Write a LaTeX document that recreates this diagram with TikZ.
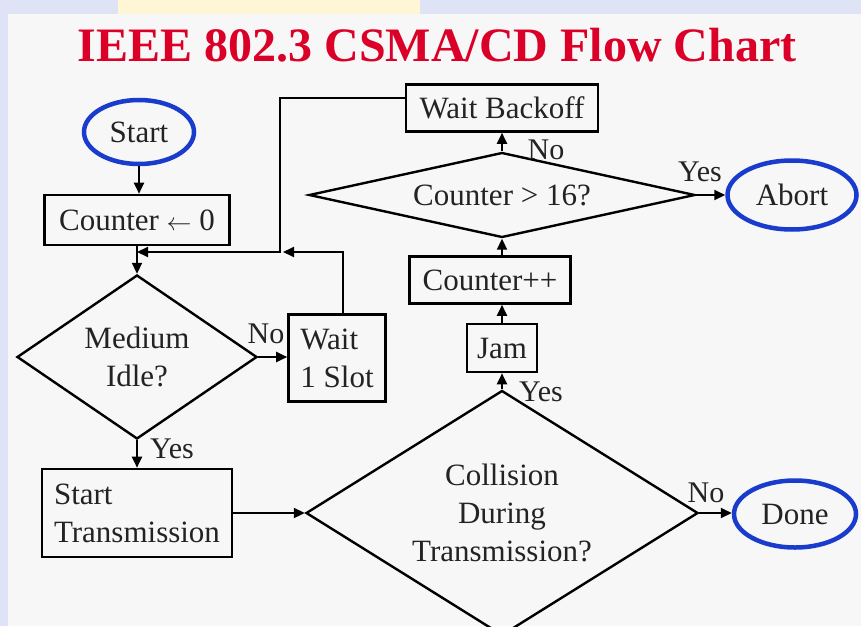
\documentclass[tikz,border=0pt]{standalone}
\usepackage{fontspec}
\setmainfont{Liberation Serif}
\usetikzlibrary{shapes.geometric,arrows.meta}
\definecolor{titlered}{RGB}{218,0,40}
\definecolor{ellblue}{RGB}{25,60,205}
\definecolor{txt}{RGB}{35,35,35}
\definecolor{bgpage}{RGB}{247,247,247}
\definecolor{bgblue}{RGB}{222,228,246}
\definecolor{bgyellow}{RGB}{255,246,214}
\begin{document}
\begin{tikzpicture}[x=1pt,y=-1pt,
 every node/.style={font=\fontsize{31}{38}\selectfont, text=txt, inner sep=0pt},
 procbox/.style={draw=black, line width=2.6pt, rectangle},
 decision/.style={draw=black, line width=2.4pt, diamond, align=center},
 terminal/.style={draw=ellblue, line width=4.5pt, ellipse},
 lbl/.style={font=\fontsize{30}{36}\selectfont},
 conn/.style={draw=black, line width=2pt, -{Triangle[length=11pt,width=10pt]}}]
\fill[bgblue] (0,0) rectangle (861,626);
\fill[bgyellow] (118,0) rectangle (420,14);
\fill[bgpage] (8,14) rectangle (861,626);
\useasboundingbox (0,0) rectangle (861,626);

\node[font=\fontsize{48}{56}\selectfont\bfseries, text=titlered, anchor=base] (title) at (437,61) {IEEE 802.3 CSMA/CD Flow Chart};

\node[terminal, minimum width=110pt, minimum height=64pt] (start) at (139,132) {Start};
\node[procbox, minimum width=185pt, minimum height=50pt] (cnt0) at (137,220) {Counter $\leftarrow$ 0};
\node[decision, shape aspect=1.46, minimum width=240pt, minimum height=164pt] (idle) at (137,357) {Medium\\Idle?};
\node[procbox, minimum width=97pt, minimum height=87pt, align=left] (wait1) at (337,358) {Wait\\1 Slot};
\node[procbox, minimum width=190pt, minimum height=88pt, align=left] (stx) at (137,513) {Start\\Transmission};
\node[decision, shape aspect=1.6, minimum width=392pt, minimum height=245pt] (coll) at (502,513) {Collision\\During\\Transmission?};
\node[terminal, minimum width=122pt, minimum height=67pt] (done) at (795,514) {Done};
\node[procbox, minimum width=70pt, minimum height=48pt] (jam) at (502,348) {Jam};
\node[procbox, minimum width=161pt, minimum height=47pt] (cntpp) at (490,280) {Counter++};
\node[decision, shape aspect=4.54, minimum width=386pt, minimum height=85pt] (c16) at (502,195) {Counter > 16?};
\node[procbox, minimum width=192pt, minimum height=47pt] (backoff) at (502,108) {Wait Backoff};
\node[terminal, minimum width=129pt, minimum height=69pt] (abort) at (792,195) {Abort};

\coordinate (loopj) at (280,252);

\draw[conn] (start.south) -- (start.south |- cnt0.north);
\draw[conn] (cnt0.south) -- (cnt0.south |- idle.north);
\draw[conn] (idle.east) -- (idle.east -| wait1.west);
\draw[conn] (idle.south) -- (idle.south |- stx.north);
\draw[conn] (stx.east) -- (stx.east -| coll.west);
\draw[conn] (coll.east) -- (coll.east -| done.west);
\draw[conn] (coll.north) -- (jam.south);
\draw[conn] (jam.north) -- (jam.north |- cntpp.south);
\draw[conn] (jam.north |- cntpp.north) -- (c16.south);
\draw[conn] (c16.north) -- (backoff.south);
\draw[conn] (c16.east) -- (c16.east -| abort.west);
\draw[conn] ([yshift=10pt]backoff.west) -| (loopj) -- (loopj -| cnt0.south);
\draw[conn, shorten >=3pt] ([xshift=6pt]wait1.north) |- (loopj);

\node[lbl] (noA) at (266,334) {No};
\node[lbl] (yesA) at (172,449) {Yes};
\node[lbl] (noB) at (546,150) {No};
\node[lbl] (yesB) at (700,172) {Yes};
\node[lbl] (yesC) at (541,392) {Yes};
\node[lbl] (noC) at (706,493) {No};
\end{tikzpicture}
\end{document}
